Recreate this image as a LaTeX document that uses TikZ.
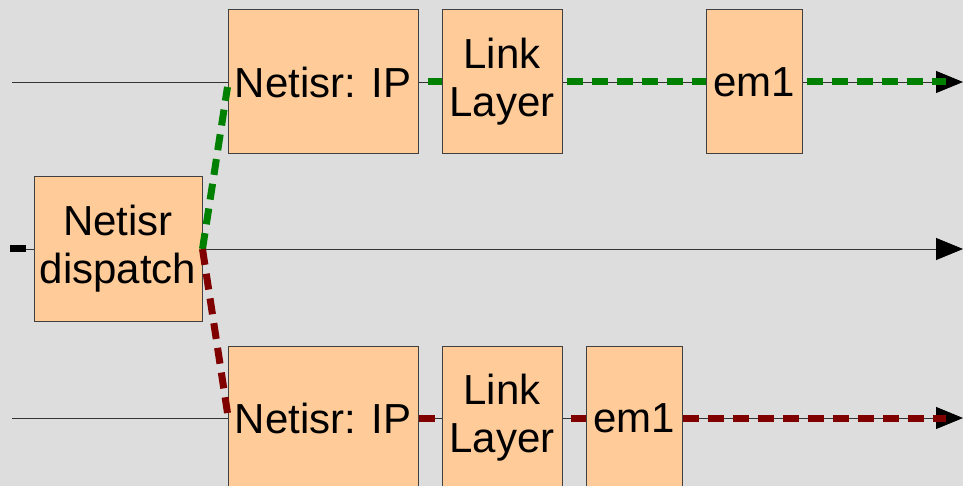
\documentclass[tikz,border=0pt]{standalone}
\usepackage{fontspec}
\setmainfont{Liberation Sans}
\usetikzlibrary{arrows.meta}
\definecolor{bg}{HTML}{DDDDDD}
\definecolor{boxfill}{HTML}{FFCC99}
\definecolor{pathgreen}{HTML}{008000}
\definecolor{pathred}{HTML}{800000}
\begin{document}
\begin{tikzpicture}[x=1pt,y=-1pt,
  box/.style={draw=black!75, line width=1pt, fill=boxfill, inner sep=0pt,
    minimum height=144pt, align=center,
    font=\fontsize{42}{48}\selectfont},
  thinline/.style={draw=black!80, line width=0.9pt},
  arr/.style={-{Triangle[length=27pt,width=22pt,color=black]}},
  flow/.style={line width=7pt, dash pattern=on 16pt off 9pt},
  greenflow/.style={flow, draw=pathgreen},
  redflow/.style={flow, draw=pathred}]
\useasboundingbox (0,0) rectangle (963,486);
\clip (0,0) rectangle (963,486);
\fill[bg] (0,0) rectangle (963,486);

% end coordinates
\coordinate (l1) at (12,82);
\coordinate (r1) at (963,82);
\coordinate (g1) at (946,82);
\coordinate (l2) at (10,249);
\coordinate (l2b) at (26,249);
\coordinate (r2) at (963,249);
\coordinate (l3) at (12,418);
\coordinate (r3) at (963,418);
\coordinate (g3) at (946,418);

% boxes
\node[box, minimum width=190pt] (ip1) at (323,82) {Netisr: IP};
\node[box, minimum width=120pt] (link1) at (502,82) {Link\\Layer};
\node[box, minimum width=96pt] (em1) at (754,82) {em1};
\node[box, minimum width=168pt] (disp) at (118,249) {Netisr\\dispatch};
\node[box, minimum width=190pt] (ip2) at (323,418) {Netisr: IP};
\node[box, minimum width=120pt] (link2) at (502,418) {Link\\Layer};
\node[box, minimum width=96pt] (em2) at (634,418) {em1};

% thin lines
\draw[thinline, arr] (l1) -- (ip1) -- (link1) -- (em1) -- (r1);
\draw[thinline, arr] (l2) -- (disp) -- (r2);
\draw[thinline, arr] (l3) -- (ip2) -- (link2) -- (em2) -- (r3);
\draw[line width=7pt, black] (l2) -- (l2b);

% green path
\draw[greenflow] (disp.east) -- ([yshift=-5pt]ip1.west);
\draw[greenflow, dash phase=16pt] (ip1.east) -- (link1.west);
\draw[greenflow, dash phase=21pt] (link1.east) -- (em1.west);
\draw[greenflow, dash phase=21pt] (em1.east) -- (g1);

% red path
\draw[redflow] (disp.east) -- ([yshift=5pt]ip2.west);
\draw[redflow] (ip2.east) -- (link2.west);
\draw[redflow, dash phase=17pt] (link2.east) -- (em2.west);
\draw[redflow] (em2.east) -- (g3);
\end{tikzpicture}
\end{document}
